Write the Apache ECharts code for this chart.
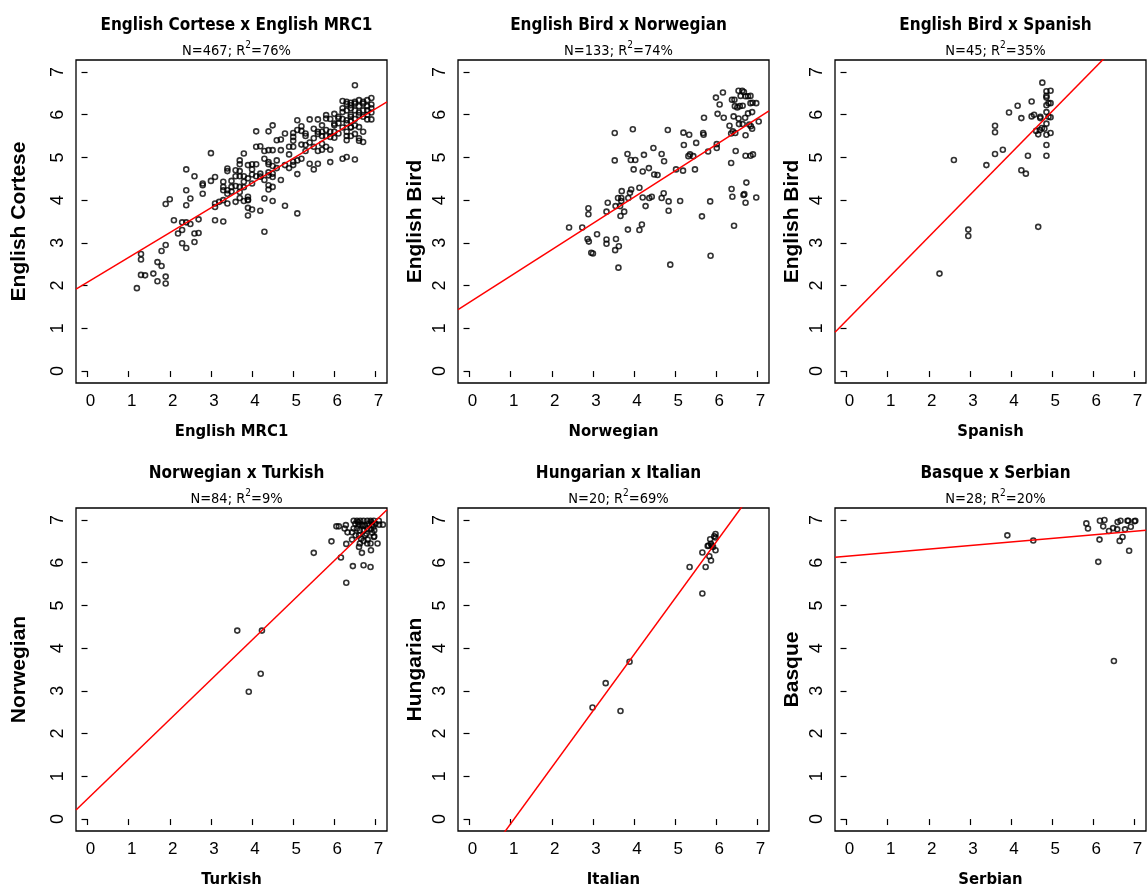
<!DOCTYPE html>
<html>
<head>
<meta charset="utf-8">
<script src="https://cdn.jsdelivr.net/npm/echarts@6/dist/echarts.min.js"></script>
<style>
html,body{margin:0;padding:0;background:#fff;}
#chart{width:1148px;height:891px;}
</style>
</head>
<body>
<div id="chart"></div>
<script>
// ---------- data ----------
const titles = ["English Cortese x English MRC1","English Bird x Norwegian","English Bird x Spanish",
                "Norwegian x Turkish","Hungarian x Italian","Basque x Serbian"];
const sampleN = [467,133,45,84,20,28];
const rSquared = [76,74,35,9,69,20];
const xNames = ["English MRC1","Norwegian","Spanish","Turkish","Italian","Serbian"];
const yNames = ["English Cortese","English Bird","English Bird","Norwegian","Hungarian","Basque"];
const tickValues = [0,1,2,3,4,5,6,7];
const intercepts = [2.08,1.61,1.18,0.47,-1.43,6.15];
const slopes = [0.58,0.615,0.98,0.93,1.32,0.084];

const pts1 = [[1.2,1.94],[1.3,2.74],[1.3,2.61],[1.3,2.25],[1.4,2.24],[1.6,2.28],[1.7,2.55],[1.8,2.46],[1.7,2.1],[1.9,2.21],[1.9,2.05],[1.8,2.81],[1.9,2.95],[1.9,3.91],[2.0,4.02],[2.1,3.53],[2.2,3.22],[2.3,3.3],[2.3,3.48],[2.4,3.48],[2.5,3.44],[2.3,2.99],[2.4,2.88],[2.6,3.22],[2.7,3.23],[2.6,3.02],[2.7,3.55],[2.4,4.23],[2.4,3.88],[2.5,4.04],[2.4,4.72],[2.6,4.56],[2.8,4.39],[2.8,4.35],[2.8,4.15],[3.0,5.1],[3.0,4.45],[3.1,4.54],[3.1,3.92],[3.1,3.84],[3.1,3.53],[3.3,3.5],[3.2,3.96],[3.3,4.31],[3.3,4.23],[3.3,4.43],[3.4,4.74],[3.4,4.68],[3.4,4.23],[3.4,4.15],[3.4,3.92],[3.5,4.45],[3.5,4.31],[3.6,4.56],[3.6,4.33],[3.6,3.96],[3.7,4.93],[3.7,4.84],[3.7,4.68],[3.7,4.56],[3.7,4.31],[3.7,4.19],[3.8,4.56],[3.8,5.09],[3.8,4.43],[3.8,3.98],[3.9,4.82],[4.0,4.84],[3.9,4.51],[3.9,4.08],[3.9,4.01],[3.9,3.82],[3.9,3.64],[4.0,3.78],[4.0,4.72],[4.0,4.39],[4.1,4.84],[4.1,4.56],[4.1,5.25],[4.1,5.61],[4.2,5.26],[4.2,4.62],[4.2,3.75],[4.3,4.97],[4.3,4.47],[4.3,5.15],[4.3,3.26],[4.3,4.04],[4.4,5.61],[4.4,5.17],[4.4,4.89],[4.4,4.84],[4.4,4.58],[4.4,4.35],[4.4,4.25],[4.5,5.75],[4.5,5.17],[4.5,4.62],[4.5,4.54],[4.5,4.31],[4.5,3.98],[4.6,5.4],[4.6,4.93],[4.7,5.42],[4.7,5.17],[4.7,4.47],[4.8,5.56],[4.8,4.82],[4.8,3.87],[4.9,5.25],[4.9,5.07],[5.0,5.39],[5.0,5.48],[5.0,4.82],[5.0,5.25],[5.0,5.57],[5.1,5.87],[5.1,5.64],[5.1,3.69],[5.1,4.61],[5.1,4.93],[5.2,5.73],[5.2,5.62],[5.2,4.97],[5.3,5.29],[5.3,5.56],[5.4,5.89],[5.4,4.85],[5.4,5.35],[5.5,5.67],[5.5,4.72],[5.5,5.25],[5.6,5.89],[5.6,5.6],[5.6,4.85],[5.7,5.6],[5.7,5.5],[5.7,5.32],[5.7,5.18],[5.8,5.99],[5.8,5.91],[5.8,5.64],[5.8,5.25],[5.9,5.6],[5.9,5.48],[5.9,5.18],[5.9,4.89],[6.0,6.02],[6.0,5.79],[6.0,5.46],[6.1,5.91],[6.1,5.56],[6.2,6.32],[6.2,6.06],[6.2,4.97],[6.3,6.3],[6.3,5.87],[6.3,5.5],[6.3,5.01],[6.4,6.22],[6.4,5.95],[6.4,5.71],[6.5,6.69],[6.5,6.26],[6.5,6.1],[6.5,4.95],[6.6,6.34],[6.6,5.99],[6.6,5.71],[6.6,5.39],[6.7,6.26],[6.7,5.95],[6.7,5.6],[6.7,5.36],[6.8,6.34],[6.8,6.1],[6.9,6.39],[6.9,6.24],[6.9,5.89],[6.8,5.89],
[6.2,6.15],[6.3,6.1],[6.4,6.0],[6.5,5.9],[6.6,6.2],[6.7,6.1],[6.8,6.0],[6.3,5.8],[6.4,5.7],[6.5,6.3],[6.2,5.9],[6.1,5.95],[6.0,5.75],[6.4,6.28],[6.6,6.05],[6.7,6.3],[6.9,6.05],[6.5,5.55],[6.6,5.45],[6.2,5.7],[6.3,5.6],[6.4,5.85],[6.5,5.75],[6.8,6.2],[6.9,6.15],[6.3,6.25],[6.4,6.15],[6.1,5.8],[5.9,5.9],[5.6,5.55],[5.5,5.45],[5.3,5.5],[5.2,5.3],[5.0,4.9],[4.9,4.75],[4.5,4.8],[4.4,4.65],[4.0,4.6],[3.9,4.0],[3.7,4.05],[3.5,4.2],[3.3,4.0],[3.6,4.7],[3.8,4.3],[4.2,4.55],[4.6,4.75],[5.3,5.15],[5.6,5.15],[5.7,5.75],[5.8,5.5],[6.3,5.4],[6.4,5.5],[6.0,5.6]];

const pts2 = [[2.42,3.36],[2.74,3.36],[2.89,3.81],[2.89,3.67],[2.87,3.09],[2.9,3.03],[2.96,2.77],[3.0,2.75],[3.1,3.2],[3.33,3.08],[3.33,2.98],[3.36,3.94],[3.33,3.73],[3.53,5.57],[3.53,4.93],[3.56,3.09],[3.54,2.83],[3.63,2.92],[3.62,2.42],[3.61,4.05],[3.69,4.05],[3.55,3.86],[3.66,3.86],[3.67,3.63],[3.76,3.73],[3.7,4.21],[3.69,3.98],[3.86,4.05],[3.9,4.17],[3.93,4.25],[3.84,5.08],[3.92,4.94],[4.03,4.94],[3.97,5.66],[3.99,4.72],[3.85,3.31],[4.13,4.29],[4.13,3.3],[4.19,3.43],[4.21,4.06],[4.21,4.67],[4.24,5.06],[4.28,3.86],[4.36,4.75],[4.37,4.05],[4.43,4.08],[4.47,5.22],[4.49,4.6],[4.57,4.59],[4.67,5.08],[4.67,4.05],[4.72,4.16],[4.73,4.91],[4.82,5.64],[4.84,3.97],[4.84,3.75],[4.88,2.49],[5.02,4.72],[5.12,3.98],[5.19,4.69],[5.2,5.58],[5.21,5.29],[5.32,5.03],[5.34,5.53],[5.36,5.07],[5.44,5.03],[5.48,4.72],[5.51,5.34],[5.65,3.62],[5.68,5.57],[5.69,5.53],[5.7,5.93],[5.8,5.14],[5.85,3.97],[5.86,2.7],[5.99,6.4],[6.01,5.31],[6.01,5.22],[6.03,6.02],[6.08,6.24],[6.16,6.52],[6.18,5.93],[6.32,5.74],[6.36,5.56],[6.4,5.61],[6.46,5.57],[6.36,4.87],[6.38,6.35],[6.44,6.35],[6.37,4.26],[6.39,4.08],[6.42,5.96],[6.43,3.4],[6.47,5.15],[6.45,6.2],[6.51,6.17],[6.57,6.2],[6.64,6.21],[6.54,6.56],[6.63,6.56],[6.67,6.53],[6.59,6.44],[6.71,6.43],[6.77,6.43],[6.83,6.44],[6.54,5.91],[6.55,5.78],[6.64,5.78],[6.7,5.93],[6.71,5.52],[6.71,5.04],[6.68,4.14],[6.66,4.12],[6.71,3.94],[6.73,4.41],[6.77,6.03],[6.87,6.06],[6.8,5.77],[6.83,5.04],[6.89,5.07],[6.83,6.27],[6.97,6.27],[6.88,6.28],[6.84,5.73],[6.87,5.67],[6.97,4.06],[7.03,5.84]];

const pts3 = [[2.26,2.28],[2.61,4.94],[2.96,3.31],[2.96,3.16],[3.4,4.82],[3.61,5.74],[3.61,5.59],[3.61,5.08],[3.8,5.18],[3.95,6.05],[4.16,6.21],[4.25,5.92],[4.25,4.7],[4.36,4.62],[4.41,5.04],[4.5,6.31],[4.5,5.96],[4.56,6.0],[4.61,5.62],[4.66,5.54],[4.7,5.64],[4.75,5.69],[4.81,5.67],[4.66,3.375],[4.71,5.95],[4.71,5.92],[4.76,6.75],[4.86,6.55],[4.96,6.56],[4.86,6.44],[4.86,6.4],[4.86,6.22],[4.91,6.27],[4.96,6.27],[4.86,6.06],[4.91,5.95],[4.96,5.94],[4.86,5.79],[4.86,5.53],[4.96,5.57],[4.86,5.29],[4.86,5.04]];

const pts4 = [[3.64,4.41],[4.24,4.41],[4.21,3.4],[3.92,2.98],[5.5,6.23],[5.93,6.5],[6.16,6.12],[6.29,5.53],[6.45,5.92],[6.71,5.94],[6.88,5.9],[6.29,6.44],[6.43,6.54],[6.67,6.23],[6.89,6.29],[7.05,6.45],[6.88,6.45],[6.8,6.45],[6.96,6.6],[6.6,6.37],[6.62,6.45],[6.71,6.51],[6.81,6.54],[6.75,6.64],[6.05,6.85],[6.11,6.85],[6.28,6.88],[6.25,6.8],[6.32,6.71],[6.43,6.71],[6.47,6.98],[6.55,6.98],[6.63,6.98],[6.71,6.98],[6.8,6.98],[6.88,6.98],[6.96,6.98],[6.51,6.91],[6.59,6.89],[6.67,6.89],[6.75,6.87],[6.84,6.91],[6.92,6.89],[7.0,6.91],[7.08,6.98],[6.47,6.8],[6.55,6.8],[6.62,6.76],[6.71,6.76],[6.8,6.8],[6.89,6.78],[6.97,6.76],[7.09,6.89],[7.18,6.89],[6.52,6.64],[6.6,6.64],[6.65,6.56],[6.78,6.68],[6.92,6.7],[6.97,6.62],[6.58,6.95],[6.9,6.95],[6.7,6.86],[6.95,6.84]];

const pts5 = [[2.99,2.61],[3.31,3.18],[3.67,2.53],[3.89,3.68],[5.35,5.9],[5.66,5.28],[5.66,6.24],[5.74,5.9],[5.79,6.39],[5.83,6.15],[5.87,6.05],[5.85,6.55],[5.87,6.44],[5.92,6.37],[5.98,6.29],[5.98,6.67],[5.98,6.59],[5.89,6.4],[5.81,6.4],[5.95,6.62]];

const pts6 = [[3.91,6.64],[4.54,6.52],[6.5,3.7],[5.83,6.92],[5.87,6.8],[6.16,6.98],[6.27,7.0],[6.24,6.85],[6.38,6.74],[6.48,6.81],[6.58,6.78],[6.59,6.95],[6.66,6.98],[6.77,6.78],[6.83,6.98],[6.85,6.98],[6.91,6.84],[7.02,6.98],[7.0,6.97],[6.15,6.54],[6.71,6.6],[6.64,6.51],[6.87,6.28],[6.12,6.02]];

const panels = [pts1,pts2,pts3,pts4,pts5,pts6];

// ---------- layout ----------
const gridLefts = [76,458,835];
const gridTops = [60,508];
const yNameGaps = [46,32,32];
const gridW = 311, gridH = 323;
const axMin = -0.28, axMax = 7.28;

const narrow = "'Liberation Sans Narrow','Arial Narrow','DejaVu Sans Condensed',sans-serif";
const reg = "'Liberation Sans',Arial,Helvetica,sans-serif";

const grid = [], xAxis = [], yAxis = [], series = [], title = [];
for (let i = 0; i < 6; i++) {
  const col = i % 3, row = Math.floor(i / 3);
  const L = gridLefts[col], T = gridTops[row];
  grid.push({left: L, top: T, width: gridW, height: gridH, show: true,
             borderColor: '#000', borderWidth: 1.3, backgroundColor: 'transparent', containLabel: false});
  xAxis.push({type: 'value', gridIndex: i, min: axMin, max: axMax,
    axisLine: {show: false}, splitLine: {show: false},
    axisTick: {show: true, length: 6, customValues: tickValues, lineStyle: {color: '#000', width: 1.2}},
    axisLabel: {customValues: tickValues, color: '#000', fontSize: 17, fontFamily: reg, margin: 10, padding: [0, 0, 0, 6]},
    name: xNames[i], nameLocation: 'middle', nameGap: 40,
    nameTextStyle: {color: '#000', fontSize: 16.5, fontWeight: 'bold', fontFamily: narrow}});
  yAxis.push({type: 'value', gridIndex: i, min: axMin, max: axMax,
    axisLine: {show: false}, splitLine: {show: false},
    axisTick: {show: true, length: 6, customValues: tickValues, lineStyle: {color: '#000', width: 1.2}},
    axisLabel: {customValues: tickValues, color: '#000', fontSize: 18, fontFamily: reg, margin: 9, rotate: 90},
    name: yNames[i], nameLocation: 'middle', nameGap: yNameGaps[col],
    nameTextStyle: {color: '#000', fontSize: 21, fontWeight: 'bold', fontFamily: reg}});
  series.push({type: 'scatter', xAxisIndex: i, yAxisIndex: i, data: panels[i],
    symbol: 'circle', symbolSize: 5, silent: true,
    itemStyle: {color: 'rgba(0,0,0,0)', borderColor: '#000', borderWidth: 1.6}});
  series.push({type: 'line', xAxisIndex: i, yAxisIndex: i, clip: true, silent: true,
    showSymbol: false, symbol: 'none',
    data: [[axMin, intercepts[i] + slopes[i] * axMin], [axMax, intercepts[i] + slopes[i] * axMax]],
    lineStyle: {color: '#ff0000', width: 1.5}});
  const cx = L + gridW / 2;
  title.push({text: titles[i], left: cx, top: T - 48, textAlign: 'center',
    textStyle: {color: '#000', fontSize: 17, fontWeight: 'bold', fontFamily: narrow}});
  title.push({text: 'N=' + sampleN[i] + '; R{sup|2}=' + rSquared[i] + '%', left: cx, top: T - 25, textAlign: 'center',
    textStyle: {color: '#000', fontSize: 14.5, fontWeight: 'normal', fontFamily: narrow, lineHeight: 22,
      rich: {sup: {fontSize: 10, fontWeight: 'normal', fontFamily: narrow, color: '#000', verticalAlign: 'top', lineHeight: 22}}}});
}

const chart = echarts.init(document.getElementById('chart'), null, {renderer: 'canvas'});
chart.setOption({animation: false, backgroundColor: '#fff', title, grid, xAxis, yAxis, series});
</script>
</body>
</html>
